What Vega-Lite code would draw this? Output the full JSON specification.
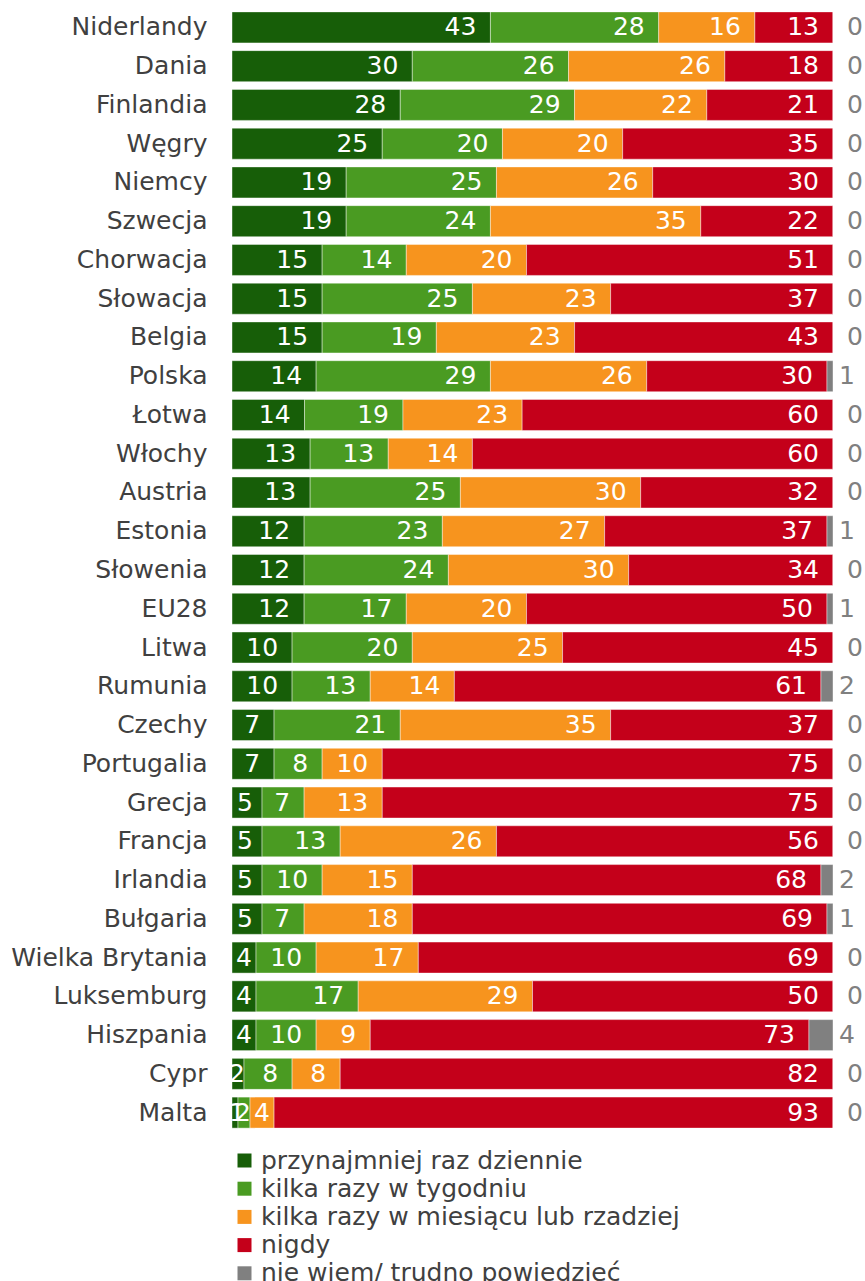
{
  "$schema": "https://vega.github.io/schema/vega-lite/v6.json",
  "width": 601,
  "height": 1124,
  "autosize": {"type": "none"},
  "padding": {"left": 232, "top": 8, "right": 32, "bottom": 149},
  "background": "white",
  "config": {"view": {"stroke": null}, "font": "DejaVu Sans"},
  "data": {
    "values": [
      {"kraj": "Niderlandy", "przynajmniej raz dziennie": 43, "kilka razy w tygodniu": 28, "kilka razy w miesiącu lub rzadziej": 16, "nigdy": 13, "nie wiem/ trudno powiedzieć": 0},
      {"kraj": "Dania", "przynajmniej raz dziennie": 30, "kilka razy w tygodniu": 26, "kilka razy w miesiącu lub rzadziej": 26, "nigdy": 18, "nie wiem/ trudno powiedzieć": 0},
      {"kraj": "Finlandia", "przynajmniej raz dziennie": 28, "kilka razy w tygodniu": 29, "kilka razy w miesiącu lub rzadziej": 22, "nigdy": 21, "nie wiem/ trudno powiedzieć": 0},
      {"kraj": "Węgry", "przynajmniej raz dziennie": 25, "kilka razy w tygodniu": 20, "kilka razy w miesiącu lub rzadziej": 20, "nigdy": 35, "nie wiem/ trudno powiedzieć": 0},
      {"kraj": "Niemcy", "przynajmniej raz dziennie": 19, "kilka razy w tygodniu": 25, "kilka razy w miesiącu lub rzadziej": 26, "nigdy": 30, "nie wiem/ trudno powiedzieć": 0},
      {"kraj": "Szwecja", "przynajmniej raz dziennie": 19, "kilka razy w tygodniu": 24, "kilka razy w miesiącu lub rzadziej": 35, "nigdy": 22, "nie wiem/ trudno powiedzieć": 0},
      {"kraj": "Chorwacja", "przynajmniej raz dziennie": 15, "kilka razy w tygodniu": 14, "kilka razy w miesiącu lub rzadziej": 20, "nigdy": 51, "nie wiem/ trudno powiedzieć": 0},
      {"kraj": "Słowacja", "przynajmniej raz dziennie": 15, "kilka razy w tygodniu": 25, "kilka razy w miesiącu lub rzadziej": 23, "nigdy": 37, "nie wiem/ trudno powiedzieć": 0},
      {"kraj": "Belgia", "przynajmniej raz dziennie": 15, "kilka razy w tygodniu": 19, "kilka razy w miesiącu lub rzadziej": 23, "nigdy": 43, "nie wiem/ trudno powiedzieć": 0},
      {"kraj": "Polska", "przynajmniej raz dziennie": 14, "kilka razy w tygodniu": 29, "kilka razy w miesiącu lub rzadziej": 26, "nigdy": 30, "nie wiem/ trudno powiedzieć": 1},
      {"kraj": "Łotwa", "przynajmniej raz dziennie": 14, "kilka razy w tygodniu": 19, "kilka razy w miesiącu lub rzadziej": 23, "nigdy": 60, "nie wiem/ trudno powiedzieć": 0},
      {"kraj": "Włochy", "przynajmniej raz dziennie": 13, "kilka razy w tygodniu": 13, "kilka razy w miesiącu lub rzadziej": 14, "nigdy": 60, "nie wiem/ trudno powiedzieć": 0},
      {"kraj": "Austria", "przynajmniej raz dziennie": 13, "kilka razy w tygodniu": 25, "kilka razy w miesiącu lub rzadziej": 30, "nigdy": 32, "nie wiem/ trudno powiedzieć": 0},
      {"kraj": "Estonia", "przynajmniej raz dziennie": 12, "kilka razy w tygodniu": 23, "kilka razy w miesiącu lub rzadziej": 27, "nigdy": 37, "nie wiem/ trudno powiedzieć": 1},
      {"kraj": "Słowenia", "przynajmniej raz dziennie": 12, "kilka razy w tygodniu": 24, "kilka razy w miesiącu lub rzadziej": 30, "nigdy": 34, "nie wiem/ trudno powiedzieć": 0},
      {"kraj": "EU28", "przynajmniej raz dziennie": 12, "kilka razy w tygodniu": 17, "kilka razy w miesiącu lub rzadziej": 20, "nigdy": 50, "nie wiem/ trudno powiedzieć": 1},
      {"kraj": "Litwa", "przynajmniej raz dziennie": 10, "kilka razy w tygodniu": 20, "kilka razy w miesiącu lub rzadziej": 25, "nigdy": 45, "nie wiem/ trudno powiedzieć": 0},
      {"kraj": "Rumunia", "przynajmniej raz dziennie": 10, "kilka razy w tygodniu": 13, "kilka razy w miesiącu lub rzadziej": 14, "nigdy": 61, "nie wiem/ trudno powiedzieć": 2},
      {"kraj": "Czechy", "przynajmniej raz dziennie": 7, "kilka razy w tygodniu": 21, "kilka razy w miesiącu lub rzadziej": 35, "nigdy": 37, "nie wiem/ trudno powiedzieć": 0},
      {"kraj": "Portugalia", "przynajmniej raz dziennie": 7, "kilka razy w tygodniu": 8, "kilka razy w miesiącu lub rzadziej": 10, "nigdy": 75, "nie wiem/ trudno powiedzieć": 0},
      {"kraj": "Grecja", "przynajmniej raz dziennie": 5, "kilka razy w tygodniu": 7, "kilka razy w miesiącu lub rzadziej": 13, "nigdy": 75, "nie wiem/ trudno powiedzieć": 0},
      {"kraj": "Francja", "przynajmniej raz dziennie": 5, "kilka razy w tygodniu": 13, "kilka razy w miesiącu lub rzadziej": 26, "nigdy": 56, "nie wiem/ trudno powiedzieć": 0},
      {"kraj": "Irlandia", "przynajmniej raz dziennie": 5, "kilka razy w tygodniu": 10, "kilka razy w miesiącu lub rzadziej": 15, "nigdy": 68, "nie wiem/ trudno powiedzieć": 2},
      {"kraj": "Bułgaria", "przynajmniej raz dziennie": 5, "kilka razy w tygodniu": 7, "kilka razy w miesiącu lub rzadziej": 18, "nigdy": 69, "nie wiem/ trudno powiedzieć": 1},
      {"kraj": "Wielka Brytania", "przynajmniej raz dziennie": 4, "kilka razy w tygodniu": 10, "kilka razy w miesiącu lub rzadziej": 17, "nigdy": 69, "nie wiem/ trudno powiedzieć": 0},
      {"kraj": "Luksemburg", "przynajmniej raz dziennie": 4, "kilka razy w tygodniu": 17, "kilka razy w miesiącu lub rzadziej": 29, "nigdy": 50, "nie wiem/ trudno powiedzieć": 0},
      {"kraj": "Hiszpania\u00a0", "przynajmniej raz dziennie": 4, "kilka razy w tygodniu": 10, "kilka razy w miesiącu lub rzadziej": 9, "nigdy": 73, "nie wiem/ trudno powiedzieć": 4},
      {"kraj": "Cypr", "przynajmniej raz dziennie": 2, "kilka razy w tygodniu": 8, "kilka razy w miesiącu lub rzadziej": 8, "nigdy": 82, "nie wiem/ trudno powiedzieć": 0},
      {"kraj": "Malta", "przynajmniej raz dziennie": 1, "kilka razy w tygodniu": 2, "kilka razy w miesiącu lub rzadziej": 4, "nigdy": 93, "nie wiem/ trudno powiedzieć": 0}
    ]
  },
  "transform": [
    {"fold": ["przynajmniej raz dziennie", "kilka razy w tygodniu", "kilka razy w miesiącu lub rzadziej", "nigdy", "nie wiem/ trudno powiedzieć"], "as": ["kat", "v"]},
    {"stack": "v", "groupby": ["kraj"], "offset": "normalize", "as": ["x0", "x1"]}
  ],
  "encoding": {
    "y": {
      "field": "kraj",
      "type": "nominal",
      "sort": null,
      "scale": {"paddingInner": 0.2, "paddingOuter": 0.1},
      "axis": {"title": null, "domain": false, "ticks": false, "grid": false, "labelFontSize": 25, "labelFont": "DejaVu Sans", "labelColor": "#404040", "labelPadding": 25, "labelLimit": 300}
    }
  },
  "layer": [
    {
      "mark": {"type": "bar", "stroke": "#ffffff", "strokeWidth": 0.6, "strokeOpacity": 0.7},
      "encoding": {
        "x": {"field": "x0", "type": "quantitative", "scale": {"domain": [0, 1], "nice": false, "zero": true}, "axis": null},
        "x2": {"field": "x1"},
        "color": {
          "field": "kat",
          "type": "nominal",
          "scale": {
            "domain": ["przynajmniej raz dziennie", "kilka razy w tygodniu", "kilka razy w miesiącu lub rzadziej", "nigdy", "nie wiem/ trudno powiedzieć"],
            "range": ["#175e08", "#4a9b22", "#f7941e", "#c4001a", "#808080"]
          },
          "legend": {
            "title": null,
            "orient": "none",
            "legendX": 0,
            "legendY": 1140,
            "direction": "vertical",
            "symbolType": "square",
            "symbolSize": 196,
            "symbolStrokeWidth": 0,
            "labelFontSize": 25,
            "labelFont": "DejaVu Sans",
            "labelColor": "#404040",
            "labelOffset": 4,
            "rowPadding": 2.2,
            "padding": 0,
            "labelLimit": 700
          }
        }
      }
    },
    {
      "transform": [{"filter": "datum.kat != 'nie wiem/ trudno powiedzieć' && datum.v >= 6"}],
      "mark": {"type": "text", "align": "right", "baseline": "middle", "dx": -14, "fontSize": 25, "font": "DejaVu Sans", "color": "#ffffff"},
      "encoding": {
        "x": {"field": "x1", "type": "quantitative", "scale": {"domain": [0, 1], "nice": false}, "axis": null},
        "text": {"field": "v", "type": "quantitative"}
      }
    },
    {
      "transform": [{"filter": "datum.kat != 'nie wiem/ trudno powiedzieć' && datum.v == 5"}],
      "mark": {"type": "text", "align": "center", "baseline": "middle", "dx": 13, "fontSize": 25, "font": "DejaVu Sans", "color": "#ffffff"},
      "encoding": {
        "x": {"field": "x0", "type": "quantitative", "axis": null},
        "text": {"field": "v", "type": "quantitative"}
      }
    },
    {
      "transform": [{"filter": "datum.kat != 'nie wiem/ trudno powiedzieć' && datum.v == 4"}],
      "mark": {"type": "text", "align": "center", "baseline": "middle", "dx": 12, "fontSize": 25, "font": "DejaVu Sans", "color": "#ffffff"},
      "encoding": {
        "x": {"field": "x0", "type": "quantitative", "axis": null},
        "text": {"field": "v", "type": "quantitative"}
      }
    },
    {
      "transform": [{"filter": "datum.kat != 'nie wiem/ trudno powiedzieć' && datum.v > 0 && datum.v < 4"}],
      "mark": {"type": "text", "align": "center", "baseline": "middle", "dx": 5, "fontSize": 25, "font": "DejaVu Sans", "color": "#ffffff"},
      "encoding": {
        "x": {"field": "x0", "type": "quantitative", "axis": null},
        "text": {"field": "v", "type": "quantitative"}
      }
    },
    {
      "transform": [{"filter": "datum.kat == 'nie wiem/ trudno powiedzieć' && datum.v == 0"}],
      "mark": {"type": "text", "align": "left", "baseline": "middle", "dx": 14, "fontSize": 25, "font": "DejaVu Sans", "color": "#808080"},
      "encoding": {
        "x": {"field": "x1", "type": "quantitative", "axis": null},
        "text": {"field": "v", "type": "quantitative"}
      }
    },
    {
      "transform": [{"filter": "datum.kat == 'nie wiem/ trudno powiedzieć' && datum.v > 0"}],
      "mark": {"type": "text", "align": "left", "baseline": "middle", "dx": 6, "fontSize": 25, "font": "DejaVu Sans", "color": "#808080"},
      "encoding": {
        "x": {"field": "x1", "type": "quantitative", "axis": null},
        "text": {"field": "v", "type": "quantitative"}
      }
    }
  ]
}
